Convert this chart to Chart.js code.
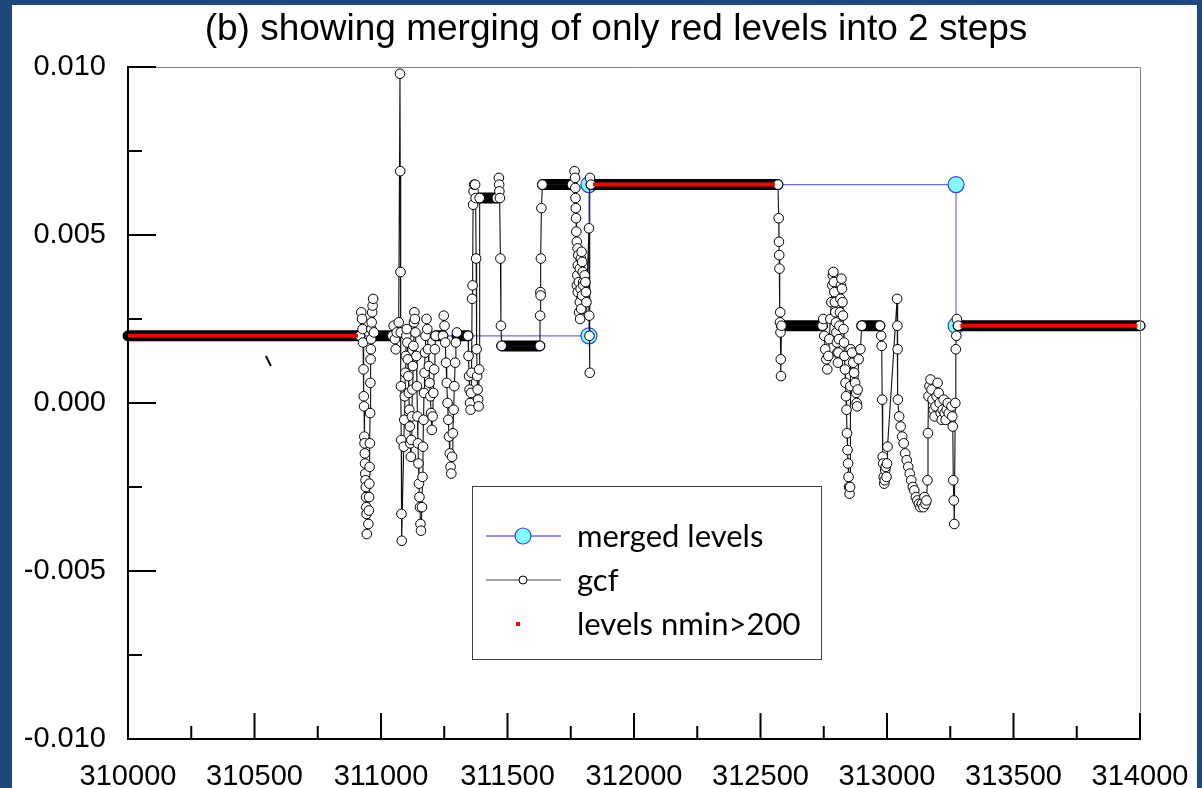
<!DOCTYPE html>
<html>
<head>
<meta charset="utf-8">
<script src="https://cdn.jsdelivr.net/npm/chart.js@4.4.0/dist/chart.umd.min.js"></script>
<style>
  html, body { margin: 0; padding: 0; background: #1f497d; overflow: hidden; }
  #frame { position: absolute; left: 12px; top: 5px; width: 1185px; height: 783px; background: #fff; }
  #c { display: block; }
</style>
</head>
<body>
<div id="frame"><canvas id="c" width="1185" height="783"></canvas></div>
<script>
var titleText = '(b) showing merging of only red levels into 2 steps';

// axis ranges / ticks
var xMin = 310000, xMax = 314000, xMajor = 500, xMinor = 250;
var yMin = -0.010, yMax = 0.010, yMajor = 0.005, yMinor = 0.0025;

// merged levels (blue / cyan)
var mergedX = [310000, 311822, 311822, 313273, 313273, 314000];
var mergedY = [0.0020, 0.0020, 0.0065, 0.0065, 0.0023, 0.0023];

// levels nmin>200 (red)
var redStart = [310000, 311838, 313290];
var redEnd   = [310909, 312557, 313990];
var redLevel = [0.0020, 0.0065, 0.0023];

// flat stretches of gcf where the markers pile up into a solid bar
var flatStart = [310000, 310972, 311216, 311300, 311390, 311477, 311638, 311830, 312583, 312900, 313281];
var flatEnd   = [310917, 311045, 311245, 311344, 311458, 311628, 311755, 312569, 312745, 312972, 314000];
var flatLevel = [0.0020, 0.0020, 0.0020, 0.0020, 0.0061, 0.0017, 0.0065, 0.0065, 0.0023, 0.0023, 0.0023];

// gcf samples
var gcfX = [
  310917, 310922, 310925, 310927, 310929, 310931, 310932, 310933, 310934, 310935,
  310936, 310937, 310938, 310939, 310940, 310941, 310942, 310943, 310944, 310950,
  310952, 310953, 310954, 310955, 310956, 310957, 310958, 310959, 310960, 310961,
  310962, 310963, 310965, 310967, 310969, 310972, 311045, 311050, 311055, 311058,
  311062, 311070, 311075, 311076, 311077, 311078, 311079, 311080, 311081, 311082,
  311090, 311092, 311094, 311096, 311098, 311100, 311102, 311104, 311106, 311108,
  311110, 311112, 311114, 311116, 311118, 311120, 311122, 311124, 311126, 311128,
  311130, 311132, 311134, 311136, 311140, 311142, 311144, 311146, 311148, 311150,
  311152, 311154, 311156, 311158, 311162, 311164, 311166, 311168, 311170, 311172,
  311174, 311176, 311180, 311183, 311186, 311189, 311192, 311195, 311198, 311201,
  311204, 311207, 311210, 311213, 311216, 311245, 311248, 311251, 311254, 311257,
  311260, 311263, 311266, 311269, 311272, 311275, 311278, 311281, 311284, 311287,
  311290, 311293, 311296, 311300, 311344, 311346, 311348, 311350, 311352, 311354,
  311356, 311358, 311360, 311362, 311364, 311366, 311368, 311372, 311374, 311376,
  311378, 311380, 311382, 311384, 311386, 311388, 311390, 311458, 311466, 311467,
  311468, 311470, 311472, 311474, 311477, 311628, 311629, 311630, 311631, 311632,
  311634, 311638, 311755, 311765, 311767, 311768, 311769, 311770, 311771, 311772,
  311774, 311777, 311780, 311778, 311776, 311774, 311778, 311782, 311786, 311790,
  311793, 311795, 311797, 311799, 311801, 311798, 311795, 311792, 311789, 311786,
  311783, 311787, 311791, 311795, 311800, 311805, 311808, 311810, 311812, 311822,
  311823, 311824, 311825, 311826, 311830, 312569, 312572, 312573, 312574, 312575,
  312577, 312578, 312579, 312580, 312581, 312583, 312745, 312748, 312752, 312756,
  312760, 312764, 312768, 312772, 312776, 312780, 312784, 312786, 312788, 312790,
  312792, 312794, 312796, 312798, 312800, 312802, 312804, 312806, 312808, 312810,
  312812, 312814, 312816, 312818, 312820, 312822, 312824, 312826, 312828, 312830,
  312832, 312834, 312836, 312838, 312840, 312842, 312844, 312846, 312848, 312850,
  312852, 312854, 312855, 312856, 312862, 312866, 312870, 312874, 312878, 312880,
  312882, 312884, 312888, 312895, 312900, 312972, 312977, 312979, 312981, 312983,
  312985, 312987, 312989, 312991, 312993, 312995, 312998, 313000, 313002, 313040,
  313041, 313042, 313043, 313048, 313054, 313060, 313066, 313072, 313078, 313084,
  313090, 313096, 313102, 313108, 313114, 313120, 313126, 313132, 313138, 313144,
  313148, 313152, 313156, 313160, 313162, 313164, 313168, 313172, 313176, 313180,
  313184, 313188, 313192, 313196, 313200, 313204, 313208, 313212, 313216, 313220,
  313224, 313228, 313232, 313236, 313240, 313244, 313255, 313258, 313260, 313262,
  313264, 313266, 313270, 313272, 313274, 313276, 313281, 314000
];
var gcfY = [
  0.0020, 0.0027, 0.0025, 0.0022, 0.0018, 0.0010, 0.0002, -0.0001, -0.0010, -0.0012,
  -0.0015, -0.0018, -0.0021, -0.0023, -0.0025, -0.0028, -0.0031, -0.0033, -0.0039, -0.0036,
  -0.0032, -0.0028, -0.0024, -0.0019, -0.0012, -0.0003, 0.0006, 0.0013, 0.0016, 0.0019,
  0.0022, 0.0024, 0.0027, 0.0029, 0.0031, 0.0021, 0.0020, 0.0023, 0.0019, 0.0016,
  0.0021, 0.0024, 0.0098, 0.0069, 0.0039, 0.0021, 0.0005, -0.0011, -0.0033, -0.0041,
  -0.0013, -0.0005, 0.0002, 0.0009, 0.0014, 0.0020, 0.0022, 0.0018, 0.0013, 0.0008,
  0.0003, -0.0002, -0.0007, -0.0012, -0.0016, -0.0011, -0.0004, 0.0004, 0.0011, 0.0017,
  0.0024, 0.0027, 0.0025, 0.0021, 0.0014, 0.0005, -0.0004, -0.0012, -0.0018, -0.0024,
  -0.0028, -0.0031, -0.0036, -0.0038, -0.0031, -0.0022, -0.0013, -0.0005, 0.0003, 0.0009,
  0.0015, 0.0020, 0.0025, 0.0022, 0.0016, 0.0011, 0.0006, 0.0002, -0.0003, -0.0008,
  -0.0004, 0.0003, 0.0010, 0.0016, 0.0020, 0.0020, 0.0026, 0.0023, 0.0018, 0.0012,
  0.0006, 0.0000, -0.0005, -0.0010, -0.0015, -0.0019, -0.0021, -0.0016, -0.0009, -0.0002,
  0.0005, 0.0012, 0.0018, 0.0021, 0.0020, 0.0014, 0.0008, 0.0004, 0.0000, -0.0002,
  0.0003, 0.0009, 0.0031, 0.0035, 0.0059, 0.0063, 0.0065, 0.0065, 0.0061, 0.0043,
  0.0016, 0.0008, 0.0004, 0.0001, -0.0001, 0.0010, 0.0061, 0.0061, 0.0067, 0.0065,
  0.0063, 0.0061, 0.0043, 0.0023, 0.0017, 0.0017, 0.0026, 0.0033, 0.0032, 0.0043,
  0.0058, 0.0065, 0.0065, 0.0069, 0.0067, 0.0064, 0.0061, 0.0058, 0.0055, 0.0051,
  0.0048, 0.0046, 0.0044, 0.0041, 0.0038, 0.0035, 0.0033, 0.0036, 0.0040, 0.0043,
  0.0045, 0.0042, 0.0039, 0.0036, 0.0033, 0.0030, 0.0028, 0.0031, 0.0034, 0.0030,
  0.0027, 0.0025, 0.0028, 0.0032, 0.0035, 0.0038, 0.0036, 0.0033, 0.0030, 0.0052,
  0.0026, 0.0020, 0.0009, 0.0067, 0.0065, 0.0065, 0.0055, 0.0048, 0.0044, 0.0040,
  0.0024, 0.0027, 0.0021, 0.0013, 0.0008, 0.0023, 0.0023, 0.0025, 0.0020, 0.0016,
  0.0013, 0.0010, 0.0014, 0.0019, 0.0025, 0.0030, 0.0035, 0.0038, 0.0039, 0.0036,
  0.0033, 0.0030, 0.0027, 0.0024, 0.0021, 0.0018, 0.0015, 0.0012, 0.0015, 0.0019,
  0.0023, 0.0027, 0.0031, 0.0035, 0.0037, 0.0034, 0.0030, 0.0026, 0.0022, 0.0018,
  0.0014, 0.0010, 0.0006, 0.0002, -0.0002, -0.0009, -0.0014, -0.0018, -0.0022, -0.0025,
  -0.0027, -0.0025, 0.0005, 0.0016, 0.0015, 0.0012, 0.0009, 0.0006, 0.0003, 0.0000,
  -0.0001, 0.0004, 0.0013, 0.0016, 0.0023, 0.0023, 0.0020, 0.0017, 0.0001, -0.0016,
  -0.0018, -0.0022, -0.0024, -0.0023, -0.0020, -0.0019, -0.0022, -0.0018, -0.0013, 0.0031,
  0.0023, 0.0016, 0.0001, -0.0004, -0.0007, -0.0010, -0.0012, -0.0015, -0.0017, -0.0019,
  -0.0021, -0.0023, -0.0025, -0.0026, -0.0028, -0.0029, -0.0030, -0.0031, -0.0030, -0.0031,
  -0.0028, -0.0030, -0.0029, -0.0023, -0.0009, 0.0002, 0.0005, 0.0007, 0.0004, 0.0001,
  -0.0002, -0.0004, -0.0001, 0.0002, 0.0006, 0.0003, 0.0000, -0.0003, -0.0005, -0.0002,
  0.0001, -0.0003, -0.0005, -0.0002, 0.0000, -0.0003, -0.0001, -0.0004, -0.0007, -0.0023,
  -0.0029, -0.0036, 0.0000, 0.0016, 0.0020, 0.0025, 0.0023, 0.0023
];

// small stray stroke left of the first transition
var strayX = [310545, 310565];
var strayY = [0.0014, 0.0011];

function pairs(xs, ys) {
  return xs.map(function(x, i){ return {x: x, y: ys[i]}; });
}
function segments(starts, ends, levels) {
  var pts = [];
  for (var i = 0; i < starts.length; i++) {
    pts.push({x: starts[i], y: levels[i]}, {x: ends[i], y: levels[i]});
    if (i < starts.length - 1) pts.push({x: ends[i], y: null});
  }
  return pts;
}

var mergedRadius = mergedX.map(function(_, i){ return (i === 0 || i === mergedX.length - 1) ? 0 : 8; });

var datasets = [
  {label: 'levels nmin>200', data: segments(redStart, redEnd, redLevel), borderColor: '#ff0000',
   borderWidth: 4, borderCapStyle: 'butt', pointRadius: 0, spanGaps: false, order: 0},
  {label: 'gcf', data: pairs(gcfX, gcfY), borderColor: '#111111', borderWidth: 1.1,
   pointRadius: 4.8, pointBackgroundColor: '#ffffff', pointBorderColor: '#000000', pointBorderWidth: 1,
   clip: false, order: 1},
  {label: 'gcf flat', data: segments(flatStart, flatEnd, flatLevel), borderColor: '#000000',
   borderWidth: 11, borderCapStyle: 'round', pointRadius: 0, spanGaps: false, clip: false, order: 2},
  {label: 'stray', data: pairs(strayX, strayY), borderColor: '#000000', borderWidth: 2,
   pointRadius: 0, order: 3},
  {label: 'merged levels', data: pairs(mergedX, mergedY), borderColor: '#6a6aff', borderWidth: 1.2,
   pointRadius: mergedRadius, pointBackgroundColor: '#80ffff', pointBorderColor: '#3a3aff',
   pointBorderWidth: 1.2, order: 4}
];

var axisTicks = {
  id: 'axisTicks',
  afterDraw: function(chart) {
    var ctx = chart.ctx, a = chart.chartArea, xs = chart.scales.x, ys = chart.scales.y;
    ctx.save();
    ctx.strokeStyle = '#808080';
    ctx.lineWidth = 1;
    ctx.beginPath();
    ctx.moveTo(a.left, Math.round(a.top) + 0.5);
    ctx.lineTo(Math.round(a.right) + 0.5, Math.round(a.top) + 0.5);
    ctx.lineTo(Math.round(a.right) + 0.5, a.bottom);
    ctx.stroke();
    ctx.strokeStyle = '#000';
    ctx.lineWidth = 2;
    ctx.beginPath();
    for (var v = xMin; v <= xMax; v += xMinor) {
      var px = xs.getPixelForValue(v);
      var len = ((v - xMin) % xMajor === 0) ? 26 : 13;
      ctx.moveTo(px, a.bottom);
      ctx.lineTo(px, a.bottom - len);
    }
    var n = Math.round((yMax - yMin) / yMinor);
    for (var i = 0; i <= n; i++) {
      var py = ys.getPixelForValue(yMin + i * yMinor);
      var l = (i % 2 === 0) ? 28 : 14;
      ctx.moveTo(a.left, py);
      ctx.lineTo(a.left + l, py);
    }
    ctx.stroke();
    // title, sits a bit left of the plot centre like the original
    ctx.fillStyle = '#000';
    ctx.font = '37px "Liberation Sans"';
    ctx.textAlign = 'center';
    ctx.textBaseline = 'middle';
    ctx.fillText(titleText, (a.left + a.right) / 2 - 18, a.top - 37);
    ctx.restore();
  }
};

var boxLegend = {
  id: 'boxLegend',
  afterDraw: function(chart) {
    var ctx = chart.ctx, a = chart.chartArea;
    var left = a.left + 344, top = a.top + 419, w = 349, h = 173;
    ctx.save();
    ctx.fillStyle = '#fff';
    ctx.fillRect(left, top, w, h);
    ctx.strokeStyle = '#404040';
    ctx.lineWidth = 1;
    ctx.strokeRect(Math.round(left) + 0.5, Math.round(top) + 0.5, w, h);
    var x0 = left + 14, x1 = left + 89, xm = left + 51, tx = left + 105;
    var rows = [top + 50, top + 94, top + 138];
    ctx.font = '31px Lato';
    ctx.textBaseline = 'middle';
    // merged levels
    ctx.strokeStyle = '#6a6aff'; ctx.lineWidth = 1.5;
    ctx.beginPath(); ctx.moveTo(x0, rows[0]); ctx.lineTo(x1, rows[0]); ctx.stroke();
    ctx.beginPath(); ctx.arc(xm, rows[0], 8, 0, Math.PI * 2);
    ctx.fillStyle = '#80ffff'; ctx.fill(); ctx.strokeStyle = '#3a3aff'; ctx.lineWidth = 1.2; ctx.stroke();
    ctx.fillStyle = '#000';
    ctx.fillText('merged levels', tx, rows[0] + 1);
    // gcf
    ctx.strokeStyle = '#444'; ctx.lineWidth = 1.2;
    ctx.beginPath(); ctx.moveTo(x0, rows[1]); ctx.lineTo(x1, rows[1]); ctx.stroke();
    ctx.beginPath(); ctx.arc(xm, rows[1], 4, 0, Math.PI * 2);
    ctx.fillStyle = '#fff'; ctx.fill(); ctx.strokeStyle = '#000'; ctx.lineWidth = 1; ctx.stroke();
    ctx.fillStyle = '#000';
    ctx.fillText('gcf', tx, rows[1] + 1);
    // red levels
    ctx.fillStyle = '#ff0000';
    ctx.fillRect(xm - 7, rows[2] - 2, 4, 4);
    ctx.fillStyle = '#000';
    ctx.fillText('levels nmin>200', tx, rows[2] + 1);
    ctx.restore();
  }
};

new Chart(document.getElementById('c'), {
  type: 'line',
  data: {datasets: datasets},
  plugins: [axisTicks, boxLegend],
  options: {
    responsive: false,
    animation: false,
    layout: {padding: {left: 0, right: 57, top: 62, bottom: 0}},
    plugins: {
      legend: {display: false},
      tooltip: {enabled: false},
      title: {display: false}
    },
    scales: {
      x: {
        type: 'linear', min: xMin, max: xMax,
        grid: {display: false, drawTicks: false},
        border: {display: true, color: '#000', width: 2},
        ticks: {stepSize: xMajor, maxRotation: 0, autoSkip: false, padding: 21, color: '#000',
          font: {family: 'Liberation Sans', size: 29},
          callback: function(v){ return String(v); }},
        afterFit: function(s){ s.height = 49; s.paddingLeft = 0; s.paddingRight = 0; }
      },
      y: {
        type: 'linear', min: yMin, max: yMax,
        grid: {display: false, drawTicks: false},
        border: {display: true, color: '#000', width: 2},
        ticks: {stepSize: yMajor, padding: 22, color: '#000',
          font: {family: 'Liberation Sans', size: 29},
          callback: function(v){ return (Math.abs(v) < 1e-9 ? 0 : v).toFixed(3); }},
        afterFit: function(s){ s.width = 116; s.paddingTop = 0; s.paddingBottom = 0; }
      }
    }
  }
});
</script>
</body>
</html>
